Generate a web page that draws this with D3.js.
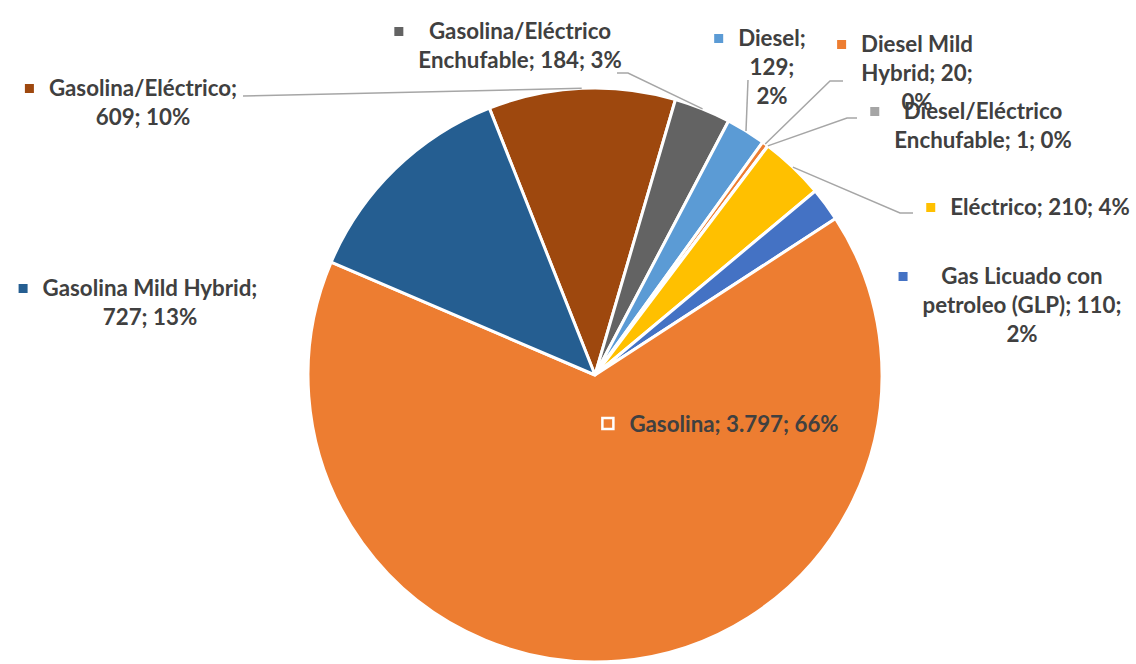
<!DOCTYPE html>
<html>
<head>
<meta charset="utf-8">
<script src="https://cdn.jsdelivr.net/npm/d3@7"></script>
<style>
  body { margin: 0; background: #fff; }
  svg { display: block; }
  .lbl { font-family: Lato, "Open Sans", sans-serif; font-weight: bold; font-size: 22.3px; fill: #404040; }
</style>
</head>
<body>
<svg id="chart" width="1136" height="664"></svg>
<script>
// data, clockwise from the top-left slice
var categories = ["Gasolina/Eléctrico", "Gasolina/Eléctrico Enchufable", "Diesel", "Diesel Mild Hybrid",
    "Diesel/Eléctrico Enchufable", "Eléctrico", "Gas Licuado con petroleo (GLP)", "Gasolina", "Gasolina Mild Hybrid"];
var values = [609, 184, 129, 20, 1, 210, 110, 3797, 727];
var valueLabels = ["609", "184", "129", "20", "1", "210", "110", "3.797", "727"];
var percentLabels = ["10%", "3%", "2%", "0%", "0%", "4%", "2%", "66%", "13%"];
var colors = ["#9E480E", "#636363", "#5B9BD5", "#ED7D31", "#A5A5A5", "#FFC000", "#4472C4", "#ED7D31", "#255E91"];

// label layout: centre x / first baseline, words per line, leader elbow points
var labelPos = [[143, 96], [520, 39], [772, 46], [917, 52], [983, 119], [1040, 215], [1022, 284], [734, 432], [150, 296]];
var wordsPerLine = [[1, 2], [1, 3], [1, 1, 1], [2, 2, 1], [1, 3], [3], [3, 3, 1], [3], [3, 2]];
var leaders = [[[243, 96]], [[617, 73], [628, 73]], [[748, 80]], [[843, 81], [830, 81]],
    [[857, 118], [847, 118]], [[913, 213], [900, 213]], null, null, null];

var cx = 595, cy = 375, r = 287;
var start = -21.6 * Math.PI / 180;
var lineH = 29;

var svg = d3.select('#chart');
var pie = d3.pie().sort(null).value(function(d) { return d; })
    .startAngle(start).endAngle(start + 2 * Math.PI);
var arcs = pie(values);
var arc = d3.arc().innerRadius(0).outerRadius(r);
var rim = d3.arc().innerRadius(r).outerRadius(r);

var g = svg.append('g').attr('transform', 'translate(' + cx + ',' + cy + ')');
g.selectAll('path.slice')
    .data(arcs)
    .enter().append('path')
    .attr('class', 'slice')
    .attr('d', arc)
    .attr('fill', function(d, i) { return colors[i]; })
    .attr('stroke', '#fff')
    .attr('stroke-width', 3)
    .attr('stroke-linejoin', 'round');

// leader lines
arcs.forEach(function(d, i) {
    if (!leaders[i]) return;
    var c = rim.centroid(d);
    var pts = leaders[i].concat([[cx + c[0], cy + c[1]]]);
    svg.append('path')
        .attr('d', d3.line()(pts))
        .attr('fill', 'none')
        .attr('stroke', '#A6A6A6')
        .attr('stroke-width', 1.5);
});

// labels
categories.forEach(function(cat, i) {
    var words = (cat + '; ' + valueLabels[i] + '; ' + percentLabels[i]).split(' ');
    var lines = [], k = 0;
    wordsPerLine[i].forEach(function(n) {
        lines.push(words.slice(k, k + n).join(' '));
        k += n;
    });
    var t = svg.append('text').attr('class', 'lbl').attr('text-anchor', 'middle');
    lines.forEach(function(s, j) {
        t.append('tspan').attr('x', labelPos[i][0]).attr('y', labelPos[i][1] + j * lineH).text(s);
    });
    var maxW = 0;
    t.selectAll('tspan').each(function() { maxW = Math.max(maxW, this.getComputedTextLength()); });
    var left = labelPos[i][0] - maxW / 2;
    var inside = i === 7;
    svg.append('rect')
        .attr('x', left - (inside ? 27 : 24))
        .attr('y', labelPos[i][1] - (inside ? 14 : 12))
        .attr('width', inside ? 11 : 9)
        .attr('height', inside ? 11 : 9)
        .attr('fill', colors[i])
        .attr('stroke', inside ? '#fff' : 'none')
        .attr('stroke-width', inside ? 2.5 : 0);
});
</script>
</body>
</html>
